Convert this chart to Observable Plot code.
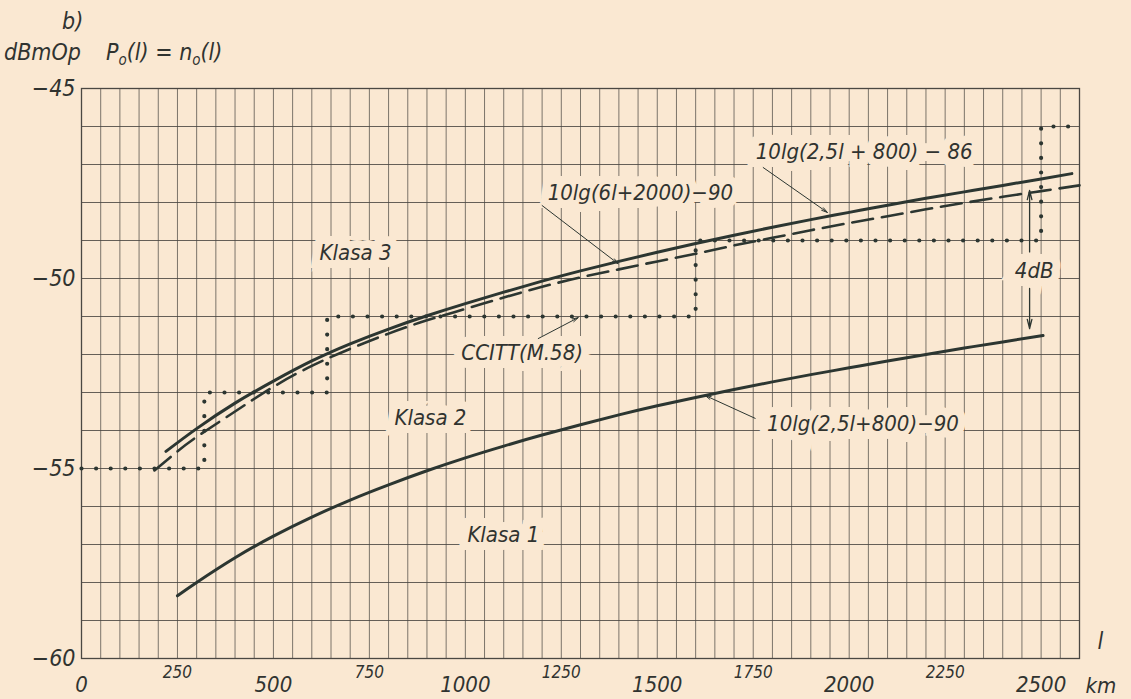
<!DOCTYPE html>
<html>
<head>
<meta charset="utf-8">
<script src="https://cdn.jsdelivr.net/npm/d3@7"></script>
<script src="https://cdn.jsdelivr.net/npm/@observablehq/plot@0.6"></script>
<style>
  html, body { margin: 0; padding: 0; background: #fae8d2; }
  body { width: 1131px; height: 699px; overflow: hidden; font-family: "DejaVu Sans Condensed", "DejaVu Sans", sans-serif; font-style: italic; color: #303330; }
  #hdr { position: relative; height: 66px; }
  #hdr span { position: absolute; font-size: 23px; line-height: 27px; white-space: nowrap; }
  #hdr sub { font-size: 15px; vertical-align: -5px; line-height: 0; }
  #chart svg { display: block; overflow: visible; }
</style>
</head>
<body>
<div id="hdr">
  <span style="left:62px;top:8px;">b)</span>
  <span style="left:4px;top:39px;">dBmOp</span>
  <span style="left:106px;top:39px;">P<sub>o</sub>(l) = n<sub>o</sub>(l)</span>
</div>
<div id="chart"></div>
<script>
// ---- data ----
// l in km, level in dBm0p
const upperL = [220, 300, 400, 500, 600, 700, 800, 900, 1000, 1100, 1200, 1300, 1400, 1500, 1600, 1700, 1800, 1900, 2000, 2100, 2200, 2300, 2400, 2500, 2580];
const upperV = [-54.55, -53.95, -53.28, -52.70, -52.17, -51.72, -51.33, -50.98, -50.66, -50.36, -50.07, -49.80, -49.55, -49.31, -49.08, -48.86, -48.65, -48.45, -48.26, -48.07, -47.89, -47.72, -47.55, -47.38, -47.24];

const dashedL = [190, 250, 300, 400, 500, 600, 700, 800, 900, 1000, 1100, 1200, 1300, 1400, 1500, 1600, 1700, 1800, 1900, 2000, 2100, 2200, 2300, 2400, 2500, 2600];
const dashedV = [-55.05, -54.55, -54.17, -53.50, -52.85, -52.30, -51.85, -51.45, -51.10, -50.80, -50.50, -50.22, -49.97, -49.76, -49.55, -49.35, -49.13, -48.93, -48.73, -48.54, -48.36, -48.18, -48.01, -47.85, -47.70, -47.55];

const lowerL = [250, 300, 400, 500, 600, 700, 800, 900, 1000, 1100, 1200, 1300, 1400, 1500, 1600, 1700, 1800, 1900, 2000, 2100, 2200, 2300, 2400, 2505];
const lowerV = [-58.35, -58.00, -57.35, -56.78, -56.28, -55.83, -55.43, -55.06, -54.72, -54.41, -54.12, -53.85, -53.59, -53.35, -53.13, -52.92, -52.72, -52.53, -52.35, -52.17, -52.00, -51.83, -51.67, -51.50];

// CCITT (M.58) staircase: step starts
const ccittL = [0, 320, 640, 1600, 2500, 2600];
const ccittV = [-55, -53, -51, -49, -46, -46];

// ticks
const xMajorTicks = [0, 500, 1000, 1500, 2000, 2500];
const xMinorTicks = [250, 750, 1250, 1750, 2250];
const yTicks = [-45, -50, -55, -60];
const xGrid = d3.range(0, 2601, 50);
const yGrid = d3.range(-60, -44, 1);

// annotation texts and anchor points
const labelText = ["Klasa 3", "Klasa 2", "Klasa 1", "CCITT(M.58)", "10lg(6l+2000)\u221290", "10lg(2,5l + 800) \u2212 86", "10lg(2,5l+800)\u221290", "4dB"];
const labelL = [714, 909, 1099, 1148, 1456, 2039, 2036, 2482];
const labelV = [-49.34, -53.68, -56.76, -51.97, -47.74, -46.68, -53.82, -49.79];

// leader arrows (from label to curve)
const arrowL1 = [1776, 1200, 1190, 1755];
const arrowV1 = [-47.08, -48.08, -51.58, -53.68];
const arrowL2 = [1943, 1398, 1294, 1625];
const arrowV2 = [-48.26, -49.61, -51.03, -53.08];

// 4 dB span arrows
const spanL = [2470, 2470];
const spanV1 = [-49.30, -50.26];
const spanV2 = [-47.68, -51.32];

// ---- build tables ----
const zip = (xs, ys) => xs.map((x, i) => ({x, y: ys[i]}));
const upper = zip(upperL, upperV);
const dashed = zip(dashedL, dashedV);
const lower = zip(lowerL, lowerV);
const ccitt = zip(ccittL, ccittV);
const labels = labelText.map((t, i) => ({t, x: labelL[i], y: labelV[i]}));
const leaders = arrowL1.map((x1, i) => ({x1, y1: arrowV1[i], x2: arrowL2[i], y2: arrowV2[i]}));
const spans = spanL.map((x, i) => ({x, y1: spanV1[i], y2: spanV2[i]}));

const bg = "#fae8d2";
const ink = "#2c3631";
const gridC = "#4a4742";
const font = "'DejaVu Sans Condensed', 'DejaVu Sans', sans-serif";

const chart = Plot.plot({
  width: 1131,
  height: 633,
  marginTop: 22,
  marginLeft: 81,
  marginRight: 52,
  marginBottom: 41,
  x: {domain: [0, 2600]},
  y: {domain: [-60, -45]},
  style: {background: "transparent", fontFamily: font, fontStyle: "italic", color: "#303330", overflow: "visible"},
  marks: [
    Plot.gridX(xGrid, {stroke: gridC, strokeOpacity: 0.8, strokeWidth: 0.9}),
    Plot.gridY(yGrid, {stroke: gridC, strokeOpacity: 0.85, strokeWidth: 1}),
    Plot.frame({stroke: gridC, strokeWidth: 1.3}),
    Plot.axisX(xMajorTicks, {tickSize: 0, tickPadding: 18, fontSize: 22, tickFormat: d => String(d), label: null}),
    Plot.axisX(xMinorTicks, {tickSize: 0, tickPadding: 7, fontSize: 17, tickFormat: d => String(d), label: null}),
    Plot.axisY(yTicks, {tickSize: 0, tickPadding: 6, fontSize: 23, tickFormat: d => "\u2212" + Math.abs(d), label: null}),
    Plot.text(["km"], {x: 2600, y: -60, dx: 6, dy: 27, textAnchor: "start", fontSize: 22}),
    Plot.text(["l"], {x: 2600, y: -59.55, dx: 18, textAnchor: "start", fontSize: 23}),
    Plot.text(labels, {x: "x", y: "y", text: "t", fontSize: 22, fill: "#303330", stroke: bg, strokeWidth: 16, strokeLinejoin: "miter", paintOrder: "stroke"}),
    Plot.arrow(leaders, {x1: "x1", y1: "y1", x2: "x2", y2: "y2", stroke: ink, strokeWidth: 1, headLength: 9, headAngle: 30}),
    Plot.arrow(spans, {x1: "x", y1: "y1", x2: "x", y2: "y2", stroke: ink, strokeWidth: 1.3, headLength: 11, headAngle: 28}),
    Plot.line(ccitt, {x: "x", y: "y", curve: "step-after", stroke: ink, strokeWidth: 4.2, strokeDasharray: "0,14.6", strokeLinecap: "round"}),
    Plot.line(dashed, {x: "x", y: "y", curve: "natural", stroke: ink, strokeWidth: 2.6, strokeDasharray: "21,9"}),
    Plot.line(upper, {x: "x", y: "y", curve: "natural", stroke: ink, strokeWidth: 3}),
    Plot.line(lower, {x: "x", y: "y", curve: "natural", stroke: ink, strokeWidth: 3})
  ]
});
document.getElementById("chart").append(chart);
</script>
</body>
</html>
